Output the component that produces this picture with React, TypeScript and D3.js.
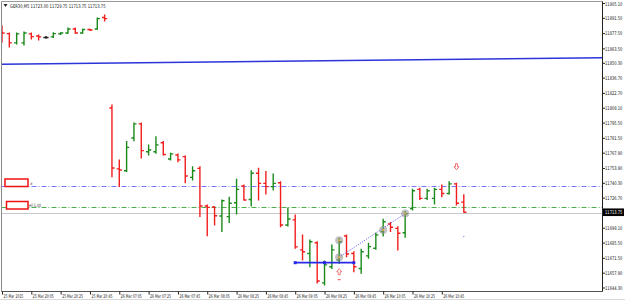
import React from 'react'
import * as d3 from 'd3'

const W = 625, H = 301

const symbol = 'GER30,M5'
const lastQuote = [11723.00, 11729.75, 11713.75, 11713.75]

// M5 bars
const open = [
  11882.75, 11877.5, 11869, 11869, 11877.25, 11875.25, 11874, 11874.5, 11877.25, 11878, 11881.75, 11878, 11881.25, 11881.75, 11892.25,
  11809.25, 11753.5, 11751.75, 11781.75, 11794.75, 11769.25, 11769.25, 11777.5, 11762.5, 11766.25, 11764.75, 11745.75, 11754, 11719.5,
  11718.5, 11710.25, 11709.75, 11722.5, 11737.75, 11725.5, 11749.5, 11740.25, 11737.25, 11740.75, 11702, 11706.75, 11679.25, 11676,
  11685.75, 11649, 11663.75, 11670, 11692, 11676, 11662.25, 11673.75, 11680.75, 11696, 11703, 11699, 11695, 11717.25, 11734.75,
  11726.5, 11726.5, 11734.75, 11731, 11739.75, 11723,
]
const high = [
  11884.5, 11878, 11878, 11879, 11878, 11876.25, 11874.75, 11878.25, 11878.25, 11882.75, 11882.75, 11881.5, 11881.5, 11891.75, 11894.5,
  11812, 11761.75, 11778.5, 11795.5, 11795.5, 11775.5, 11783, 11778.5, 11767.75, 11767.25, 11765.25, 11755.5, 11755.5, 11720.5,
  11718.75, 11725, 11727.5, 11744, 11738.75, 11751.75, 11754, 11751, 11748.75, 11741.75, 11717.75, 11711.25, 11693, 11688.25,
  11686.75, 11669, 11683.75, 11689.75, 11693, 11677.5, 11679.75, 11685.25, 11694.5, 11707.25, 11704.25, 11700.5, 11714.25, 11734.75, 11735.75,
  11734.75, 11735.75, 11738.75, 11741.75, 11740.25, 11729.75,
]
const low = [
  11869.75, 11865.25, 11868, 11867, 11872.5, 11871.75, 11873.25, 11874, 11876.75, 11877.75, 11877.75, 11877.75, 11880.25, 11881.5, 11889,
  11746.25, 11737.25, 11751, 11779.25, 11763.5, 11766.25, 11767.75, 11766.25, 11761.75, 11760, 11740.75, 11743.25, 11709.75, 11692.25,
  11702, 11696, 11704.25, 11712.25, 11725, 11719.5, 11725, 11730.5, 11734.25, 11700.5, 11701.25, 11680.75, 11670, 11663.75,
  11649, 11647, 11662.25, 11667, 11673, 11659.25, 11657.75, 11671.5, 11679.75, 11692, 11696, 11679.25, 11690.75, 11715.75, 11725.5,
  11725.5, 11721.25, 11728, 11730.5, 11720.5, 11713.75,
]
const close = [
  11878, 11869, 11877.25, 11878, 11874.75, 11874.5, 11874, 11877.5, 11878, 11881.75, 11878, 11881.25, 11880.75, 11891.25, 11891.25,
  11754.25, 11752.5, 11773.25, 11794.75, 11770.25, 11770.75, 11775.5, 11766.75, 11767.25, 11761.75, 11747, 11751.75, 11719.5, 11718.25,
  11710.5, 11724.25, 11722, 11734.75, 11725, 11749.5, 11740.25, 11737.25, 11740.25, 11702, 11707.5, 11682, 11677.5, 11686.75,
  11650.75, 11665.5, 11679.25, 11686.75, 11675.5, 11663.75, 11677.5, 11682.25, 11693, 11705, 11700, 11694.5, 11712.25, 11733.5, 11726.5,
  11733.5, 11734.75, 11731, 11739.75, 11722, 11713.75,
]

const sessions = [
  { start: '2015-03-25T19:45', bars: 15 },
  { start: '2015-03-26T07:00', bars: 49 },
]

const priceTicks = [
  11905.10, 11891.50, 11877.50, 11863.50, 11850.30, 11836.70, 11822.70, 11809.10, 11795.50, 11781.50,
  11767.90, 11753.90, 11740.30, 11726.70, 11699.10, 11685.50, 11671.50, 11657.90, 11644.30,
]

const bidPrice = 11713.75
const blueLevel = 11738.25
const greenLevel = 11718.25
const trendPrices = [11849.5, 11854] // at first and last bar
const boxLevel = 11667.5, boxBars = [40, 44, 48]
const dotLine = [[46, 11672.5], [55, 11712.5]]
const circles = [[46, 11688], [46, 11672.5], [52, 11697.5], [55, 11712.5]]
const arrowDown = [62, 11755.5]
const arrowUp = [46, 11659.25]

export default function App() {
  const parse = d3.utcParse('%Y-%m-%dT%H:%M')
  const times = sessions.flatMap(s => d3.range(s.bars).map(k => d3.utcMinute.offset(parse(s.start)!, 5 * k)))
  const n = close.length

  const left = 1.5, right = 602.5, top = 1.5, bottom = 291.5
  const x = d3.scaleLinear().domain([0, n - 1]).range([2, 463.8])
  const y = d3.scaleLinear().domain([11641.56, 11905.56]).range([291, 3])
  const yPx = (p: number) => Math.round(y(p)) + 0.5
  const trend = d3.scaleLinear().domain([0, n - 1]).range(trendPrices)
  const rightIdx = x.invert(right)

  const fmtDay = d3.utcFormat('%d %b %Y')
  const fmt = d3.utcFormat('%d %b %H:%M')
  const font = 'DejaVu Sans, sans-serif'

  const green = '#1a8a1a', red = '#f21d1d'

  // small squeezed text, like the terminal's bitmap font
  const small = (tx: number, ty: number, s: string, sx: number, fill = '#222', size = 5) => (
    <text transform={`translate(${tx},${ty}) scale(${sx},1)`} fontSize={size} fontFamily={font} fill={fill}>{s}</text>
  )

  return (
    <svg width={W} height={H} style={{ position: 'absolute', left: 0, top: 0, background: '#fff' }}>
      <defs>
        <clipPath id="plot">
          <rect x={left} y={top} width={right - left} height={bottom - top} />
        </clipPath>
      </defs>

      <g clipPath="url(#plot)">
        {/* levels */}
        <line x1={left} x2={right} y1={y(trend(-0.3))} y2={y(trend(rightIdx))}
          stroke="#2b35d8" strokeWidth={1.6} />
        <line x1={left} x2={right} y1={yPx(blueLevel)} y2={yPx(blueLevel)}
          stroke="#7676ff" strokeWidth={1} strokeDasharray="5,2,1,2" />
        <line x1={left} x2={right} y1={yPx(greenLevel)} y2={yPx(greenLevel)}
          stroke="#4caf4c" strokeWidth={1} strokeDasharray="5,2,1,2" />
        <line x1={left} x2={right} y1={yPx(bidPrice) + 1} y2={yPx(bidPrice) + 1}
          stroke="#c8c8c8" strokeWidth={1} />

        {/* bars */}
        {d3.range(n).map(i => {
          const c = close[i] > open[i] ? green : close[i] < open[i] ? red : '#222'
          const cx = x(i)
          return (
            <g key={i} stroke={c} strokeWidth={1.4}>
              <line x1={cx} x2={cx} y1={y(high[i]) - 0.5} y2={y(low[i]) + 0.5} />
              <line x1={cx - 2.6} x2={cx} y1={y(open[i])} y2={y(open[i])} />
              <line x1={cx} x2={cx + 2.6} y1={y(close[i])} y2={y(close[i])} />
            </g>
          )
        })}

        {/* objects */}
        <line x1={x(boxBars[0])} x2={x(boxBars[2])} y1={y(boxLevel)} y2={y(boxLevel)}
          stroke="#2a2ae6" strokeWidth={1.8} />
        {boxBars.map(b => (
          <rect key={b} x={x(b) - 1.5} y={y(boxLevel) - 1.5} width={3} height={3} fill="#2a2ae6" />
        ))}
        <line x1={x(dotLine[0][0])} y1={y(dotLine[0][1])} x2={x(dotLine[1][0])} y2={y(dotLine[1][1])}
          stroke="#4b4bf0" strokeWidth={1} strokeDasharray="1,1.5" />
        {circles.map(([b, p], k) => (
          <g key={k}>
            <circle cx={x(b)} cy={y(p)} r={4} fill="rgba(140,140,140,0.55)" />
            <circle cx={x(b)} cy={y(p)} r={1} fill="#e8b030" />
          </g>
        ))}
        <path
          d={`M${x(arrowDown[0]) - 1},${y(arrowDown[1]) - 3} h2 v3 h1.5 l-2.5,3 l-2.5,-3 h1.5 z`}
          fill="#fff" stroke="#f06060" strokeWidth={0.9} />
        <path
          d={`M${x(arrowUp[0]) - 1},${y(arrowUp[1]) + 3} h2 v-3 h1.5 l-2.5,-3 l-2.5,3 h1.5 z`}
          fill="#fff" stroke="#f07070" strokeWidth={0.9} />
        <line x1={x(arrowUp[0]) - 1.5} x2={x(arrowUp[0]) + 1.5} y1={y(arrowUp[1]) + 8} y2={y(arrowUp[1]) + 8}
          stroke="#f05050" strokeWidth={1} />
        <rect x={x(63) - 0.5} y={y(11692)} width={1} height={1} fill="#6a6af0" />

        {/* order labels (blanked) */}
        <rect x={5} y={179} width={23} height={7.5} fill="#fff" stroke="#e11" strokeWidth={1.5} />
        {small(30, 185, '#', 0.8, '#555', 4)}
        <rect x={6.5} y={201.5} width={21.5} height={7.5} fill="#fff" stroke="#e11" strokeWidth={1.5} />
        {small(29, 206.5, 'ell 5.00', 0.72, '#444', 4.5)}
      </g>

      {/* frame */}
      <line x1={left} x2={right} y1={top} y2={top} stroke="#9a9a9a" />
      <line x1={left} x2={left} y1={top} y2={bottom} stroke="#8a8a8a" />
      <line x1={left} x2={right} y1={bottom} y2={bottom} stroke="#555" />
      <line x1={right} x2={right} y1={top} y2={bottom} stroke="#222" />
      <line x1={0} x2={W} y1={299.5} y2={299.5} stroke="#d8d8d8" />

      {/* header */}
      <path d="M3.5,4 h4 l-2,3 z" fill="#222" />
      {small(10, 7.8, `${symbol}  ${lastQuote.map(v => v.toFixed(2)).join(' ')}`, 0.75)}

      {/* price axis */}
      {priceTicks.map(p => (
        <g key={p}>
          <line x1={right} x2={right + 2.5} y1={y(p)} y2={y(p)} stroke="#222" />
          {small(605, Math.max(y(p) + 1.8, 5.6), p.toFixed(2), 0.73)}
        </g>
      ))}
      <rect x={603} y={y(bidPrice) - 3.8} width={21} height={7.6} fill="#000" />
      {small(605, y(bidPrice) + 1.8, bidPrice.toFixed(2), 0.73, '#fff')}

      {/* time axis */}
      {d3.range(0, n, 4).map(i => (
        <g key={i}>
          <line x1={x(i) + 0.5} x2={x(i) + 0.5} y1={bottom} y2={bottom + 3} stroke="#222" />
          {small(x(i) + 1.5, 297.6, i === 0 ? fmtDay(times[i]) : fmt(times[i]), 0.63)}
        </g>
      ))}
    </svg>
  )
}
